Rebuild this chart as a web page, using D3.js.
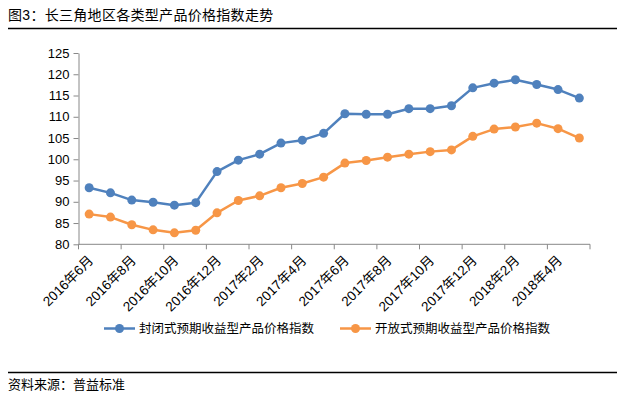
<!DOCTYPE html>
<html>
<head>
<meta charset="utf-8">
<script src="https://cdn.jsdelivr.net/npm/d3@7"></script>
<style>
  body { margin: 0; background: #fff; }
  svg { display: block; font-family: "Liberation Sans", "Noto Sans CJK SC", sans-serif; }
</style>
</head>
<body>
<script>
// 月份（类别）
const months = [
    "2016年6月", "2016年7月", "2016年8月", "2016年9月", "2016年10月", "2016年11月",
    "2016年12月", "2017年1月", "2017年2月", "2017年3月", "2017年4月", "2017年5月",
    "2017年6月", "2017年7月", "2017年8月", "2017年9月", "2017年10月", "2017年11月",
    "2017年12月", "2018年1月", "2018年2月", "2018年3月", "2018年4月", "2018年5月"
];
// 封闭式
const closedIndex = [93.3, 92.1, 90.4, 89.9, 89.2, 89.8, 97.1, 99.8, 101.2, 103.8, 104.5, 106.1,
    110.7, 110.6, 110.6, 111.9, 111.9, 112.6, 116.8, 117.9, 118.7, 117.6, 116.4, 114.4];
// 开放式
const openIndex = [87.1, 86.4, 84.6, 83.4, 82.7, 83.3, 87.4, 90.3, 91.4, 93.3, 94.3, 95.8,
    99.1, 99.7, 100.5, 101.2, 101.8, 102.2, 105.4, 107.1, 107.6, 108.5, 107.2, 105.0];
const seriesNames = ["封闭式预期收益型产品价格指数", "开放式预期收益型产品价格指数"];
const yTicks = [80, 85, 90, 95, 100, 105, 110, 115, 120, 125];

const width = 630;
const height = 395;
const colors = ["#4F81BD", "#F79646"];

const svg = d3.select("body").append("svg")
    .attr("width", width)
    .attr("height", height);

// 标题
svg.append("text")
    .attr("x", 8).attr("y", 20)
    .attr("font-size", 14)
    .attr("letter-spacing", 0.3)
    .attr("fill", "#000")
    .text("图3：长三角地区各类型产品价格指数走势");
svg.append("line")
    .attr("x1", 8).attr("x2", 617).attr("y1", 28.5).attr("y2", 28.5)
    .attr("stroke", "#000").attr("stroke-width", 1.3);

// 刻度
const xScale = d3.scaleBand().domain(months).range([78.5, 590]).padding(0);
const yScale = d3.scaleLinear().domain([80, 125]).range([244.3, 53]);

// y axis
const yAxis = svg.append("g")
    .attr("transform", "translate(78.5,0)")
    .call(d3.axisLeft(yScale).tickValues(yTicks).tickSize(5).tickSizeOuter(0).tickPadding(4));
yAxis.select(".domain").attr("stroke", "#888");
yAxis.selectAll(".tick line").attr("stroke", "#888");
yAxis.selectAll("text").attr("font-size", 13).attr("fill", "#000")
    .attr("font-family", "Liberation Sans, sans-serif");

// x axis
const xAxis = svg.append("g")
    .attr("transform", "translate(0," + yScale(80) + ")");
xAxis.append("line")
    .attr("x1", xScale.range()[0]).attr("x2", xScale.range()[1])
    .attr("stroke", "#888");
const boundaries = d3.range(0, months.length + 1, 2);
xAxis.selectAll(".xtick").data(boundaries).join("line")
    .attr("class", "xtick")
    .attr("x1", (i) => xScale.range()[0] + i * xScale.step())
    .attr("x2", (i) => xScale.range()[0] + i * xScale.step())
    .attr("y1", 0).attr("y2", 5)
    .attr("stroke", "#888");
xAxis.selectAll(".xlabel").data(months.filter((d, i) => i % 2 === 0)).join("text")
    .attr("class", "xlabel")
    .attr("text-anchor", "end")
    .attr("font-size", 13.5)
    .attr("fill", "#000")
    .attr("transform", (d) => "translate(" + (xScale(d) + xScale.bandwidth() / 2 + 5) + ",17) rotate(-45)")
    .text((d) => d);

// 折线
const allSeries = [closedIndex, openIndex];
const line = d3.line()
    .x((d, i) => xScale(months[i]) + xScale.bandwidth() / 2)
    .y((d) => yScale(d));

allSeries.forEach((values, k) => {
    svg.append("path")
        .datum(values)
        .attr("fill", "none")
        .attr("stroke", colors[k])
        .attr("stroke-width", 2.5)
        .attr("stroke-linejoin", "round")
        .attr("d", line);
    svg.selectAll(".dot" + k).data(values).join("circle")
        .attr("class", "dot" + k)
        .attr("cx", (d, i) => xScale(months[i]) + xScale.bandwidth() / 2)
        .attr("cy", (d) => yScale(d))
        .attr("r", 4.5)
        .attr("fill", colors[k]);
});

// 图例
const legendX = [104, 340];
seriesNames.forEach((name, k) => {
    const g = svg.append("g").attr("transform", "translate(" + legendX[k] + ",328.5)");
    g.append("line").attr("x1", 0).attr("x2", 31).attr("stroke", colors[k]).attr("stroke-width", 2.5);
    g.append("circle").attr("cx", 15.5).attr("cy", 0).attr("r", 4.5).attr("fill", colors[k]);
    g.append("text").attr("x", 35).attr("y", 4.5)
        .attr("font-size", 12.5).attr("fill", "#000")
        .text(name);
});

// 资料来源
svg.append("line")
    .attr("x1", 8).attr("x2", 617).attr("y1", 372.5).attr("y2", 372.5)
    .attr("stroke", "#000").attr("stroke-width", 1.3);
svg.append("text")
    .attr("x", 8).attr("y", 389)
    .attr("font-size", 13)
    .attr("fill", "#000")
    .text("资料来源：普益标准");
</script>
</body>
</html>
